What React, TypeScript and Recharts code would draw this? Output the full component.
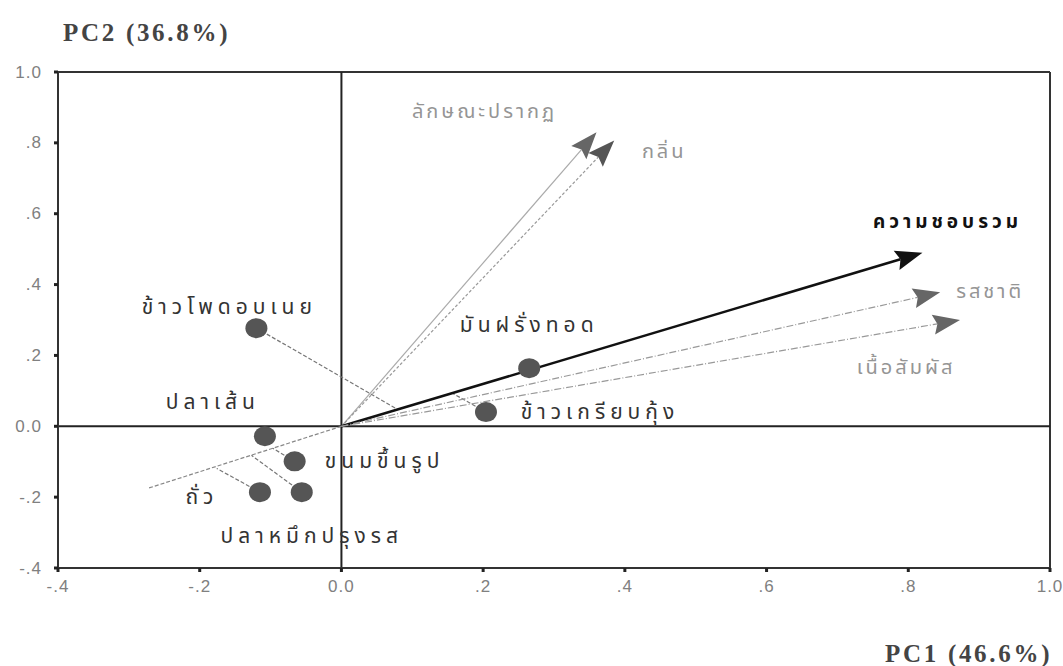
import { ScatterChart, Scatter, XAxis, YAxis, ReferenceLine } from "recharts";

// food samples (scores)
const sampleNames = ["ข้าวโพดอบเนย", "ปลาเส้น", "ขนมขึ้นรูป", "ถั่ว", "ปลาหมึกปรุงรส", "มันฝรั่งทอด", "ข้าวเกรียบกุ้ง"];
const samplePC1 = [-0.12, -0.108, -0.066, -0.115, -0.056, 0.265, 0.204];
const samplePC2 = [0.277, -0.028, -0.099, -0.186, -0.186, 0.164, 0.04];

// sensory attributes (loadings)
const attrNames = ["ลักษณะปรากฏ", "กลิ่น", "ความชอบรวม", "รสชาติ", "เนื้อสัมผัส"];
const attrPC1 = [0.36, 0.385, 0.82, 0.845, 0.873];
const attrPC2 = [0.83, 0.807, 0.49, 0.378, 0.3];

// back-extension of the overall liking axis
const extPC1 = -0.273;
const extPC2 = -0.175;

// projections of samples onto the liking axis
const projSample = [0, 6, 3, 4, 2];
const projPC1 = [0.079, 0.157, -0.176, -0.127, -0.097];
const projPC2 = [0.048, 0.093, -0.119, -0.082, -0.062];

const ticks = [-0.4, -0.2, 0, 0.2, 0.4, 0.6, 0.8, 1.0];

const THAI = "'Noto Sans Thai', 'Noto Sans', 'DejaVu Sans', sans-serif";

const fmt = (v: number) => {
  if (v === 0) return "0.0";
  if (v === 1) return "1.0";
  return v.toFixed(1).replace("0.", ".");
};

// label offsets (px) from each dot
const sampleLabel: Record<string, { dx: number; dy: number }> = {
  "ข้าวโพดอบเนย": { dx: -27, dy: -21 },
  "ปลาเส้น": { dx: -52, dy: -34 },
  "ขนมขึ้นรูป": { dx: 90, dy: 0 },
  "ถั่ว": { dx: -58, dy: 5 },
  "ปลาหมึกปรุงรส": { dx: 10, dy: 44 },
  "มันฝรั่งทอด": { dx: 0, dy: -43 },
  "ข้าวเกรียบกุ้ง": { dx: 114, dy: 0 },
};

const attrStyle: Record<string, any> = {
  "ลักษณะปรากฏ": { stroke: "#aaa", width: 1.2, dash: undefined, head: "#666", text: "#959595", bold: false, dx: -112, dy: -20 },
  "กลิ่น": { stroke: "#999", width: 1.2, dash: "3 2", head: "#555", text: "#959595", bold: false, dx: 50, dy: 12 },
  "ความชอบรวม": { stroke: "#111", width: 2.5, dash: undefined, head: "#111", text: "#111", bold: true, dx: 25, dy: -30 },
  "รสชาติ": { stroke: "#999", width: 1.2, dash: "7 2 1 2", head: "#666", text: "#959595", bold: false, dx: 50, dy: 0 },
  "เนื้อสัมผัส": { stroke: "#999", width: 1.2, dash: "7 2 1 2", head: "#666", text: "#959595", bold: false, dx: -54, dy: 48 },
};

const samples = sampleNames.map((name, i) => ({ name, x: samplePC1[i], y: samplePC2[i] }));

const makeArrow = (name: string) => (props: any) => {
  const { x1, y1, x2, y2 } = props;
  const s = attrStyle[name];
  const ang = Math.atan2(y2 - y1, x2 - x1);
  const len = 27;
  const half = 10;
  const bx = x2 - len * Math.cos(ang);
  const by = y2 - len * Math.sin(ang);
  const px = -Math.sin(ang) * half;
  const py = Math.cos(ang) * half;
  const nx = x2 - len * 0.85 * Math.cos(ang);
  const ny = y2 - len * 0.85 * Math.sin(ang);
  return (
    <g>
      <line x1={x1} y1={y1} x2={nx} y2={ny} stroke={s.stroke} strokeWidth={s.width} strokeDasharray={s.dash} />
      <polygon points={`${x2},${y2} ${bx + px},${by + py} ${nx},${ny} ${bx - px},${by - py}`} fill={s.head} />
      <text
        x={x2 + s.dx}
        y={y2 + s.dy}
        textAnchor="middle"
        dominantBaseline="central"
        fill={s.text}
        fontFamily={THAI}
        fontSize={s.bold ? 19 : 20}
        fontWeight={s.bold ? 700 : 400}
        letterSpacing={s.bold ? 4 : 3}
      >
        {name}
      </text>
    </g>
  );
};

const plainLine = (stroke: string, dash?: string, width = 1.2) => (props: any) => {
  const { x1, y1, x2, y2 } = props;
  return <line x1={x1} y1={y1} x2={x2} y2={y2} stroke={stroke} strokeWidth={width} strokeDasharray={dash} />;
};

const SampleDot = (props: any) => {
  const { cx, cy, payload } = props;
  const l = sampleLabel[payload.name];
  return (
    <g>
      <ellipse cx={cx} cy={cy} rx={11} ry={10} fill="#555" />
      <text
        x={cx + l.dx}
        y={cy + l.dy}
        textAnchor="middle"
        dominantBaseline="central"
        fill="#333"
        fontFamily={THAI}
        fontSize={21}
        letterSpacing={5}
      >
        {payload.name}
      </text>
    </g>
  );
};

const Tick = (props: any) => {
  const { x, y, payload, orient } = props;
  const isY = orient === "left";
  return (
    <text
      x={x}
      y={y}
      textAnchor={isY ? "end" : "middle"}
      dominantBaseline={isY ? "central" : "hanging"}
      fill="#808080"
      fontSize={17}
      fontFamily="'Liberation Sans', sans-serif"
      letterSpacing={1}
    >
      {fmt(payload.value)}
    </text>
  );
};

const titleStyle = {
  position: "absolute" as const,
  fontFamily: "'Liberation Serif', serif",
  fontSize: 25,
  fontWeight: 700,
  color: "#444",
  letterSpacing: 2.7,
  lineHeight: "28px",
};

export default function App() {
  return (
    <div style={{ position: "absolute", left: 0, top: 0, width: 1063, height: 666, background: "#fff" }}>
      <div style={{ ...titleStyle, left: 63, top: 19 }}>PC2 (36.8%)</div>
      <div style={{ ...titleStyle, left: 885, top: 640 }}>PC1 (46.6%)</div>
      <ScatterChart width={1063} height={666} margin={{ top: 72, right: 13, bottom: 0, left: 0 }}>
        <XAxis
          type="number"
          dataKey="x"
          domain={[-0.4, 1.0]}
          ticks={ticks}
          height={98}
          axisLine={{ stroke: "#333", strokeWidth: 2 }}
          tickLine={{ stroke: "#222", strokeWidth: 3 }}
          tickSize={4}
          tickMargin={8}
          tick={<Tick orient="bottom" />}
          allowDataOverflow
        />
        <YAxis
          type="number"
          dataKey="y"
          domain={[-0.4, 1.0]}
          ticks={ticks}
          width={58}
          axisLine={{ stroke: "#333", strokeWidth: 2 }}
          tickLine={{ stroke: "#222", strokeWidth: 3 }}
          tickSize={4}
          tickMargin={12}
          tick={<Tick orient="left" />}
          allowDataOverflow
        />
        <ReferenceLine y={1} stroke="#333" strokeWidth={2} />
        <ReferenceLine x={1} stroke="#333" strokeWidth={2} />
        <ReferenceLine x={0} stroke="#222" strokeWidth={2} />
        <ReferenceLine y={0} stroke="#222" strokeWidth={2} />
        <ReferenceLine
          segment={[{ x: 0, y: 0 }, { x: extPC1, y: extPC2 }]}
          shape={plainLine("#888", "4 2")}
          ifOverflow="visible"
        />
        {projSample.map((si, i) => (
          <ReferenceLine
            key={"p" + i}
            segment={[{ x: samplePC1[si], y: samplePC2[si] }, { x: projPC1[i], y: projPC2[i] }]}
            shape={plainLine("#777", "4 2")}
            ifOverflow="visible"
          />
        ))}
        {attrNames.map((name, i) => (
          <ReferenceLine
            key={name}
            segment={[{ x: 0, y: 0 }, { x: attrPC1[i], y: attrPC2[i] }]}
            shape={makeArrow(name)}
            ifOverflow="visible"
          />
        ))}
        <Scatter data={samples} shape={SampleDot} isAnimationActive={false} />
      </ScatterChart>
    </div>
  );
}
